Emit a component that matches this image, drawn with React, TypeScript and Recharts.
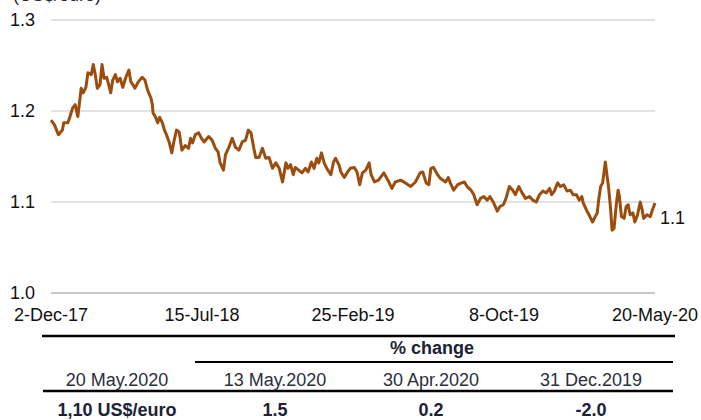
import React from "react";
import { LineChart, Line, XAxis, YAxis, CartesianGrid } from "recharts";

// days since 2-Dec-17 and US$/euro reading at that day
const tradingDay = [
  0, 5, 11, 17, 19, 25, 28, 32, 36, 40,
  45, 48, 52, 55, 60, 63, 66, 69, 73, 76,
  79, 83, 86, 89, 92, 96, 99, 103, 107, 111,
  116, 119, 122, 125, 130, 136, 140, 144, 149, 151,
  152, 156, 159, 162, 166, 169, 172, 176, 180, 183,
  187, 191, 195, 200, 205, 208, 211, 215, 220, 225,
  228, 235, 240, 245, 249, 252, 257, 260, 265, 270,
  275, 280, 285, 290, 294, 298, 302, 305, 310, 315,
  320, 325, 330, 335, 340, 345, 350, 353, 357, 361,
  364, 369, 374, 379, 383, 388, 392, 396, 399, 403,
  407, 411, 417, 421, 424, 429, 432, 437, 441, 446,
  452, 456, 460, 464, 469, 474, 477, 482, 488, 496,
  502, 508, 513, 521, 528, 536, 543, 550, 554, 559,
  563, 566, 570, 576, 580, 588, 592, 595, 600, 606,
  612, 616, 620, 626, 630, 635, 640, 645, 650, 654,
  659, 662, 665, 669, 674, 678, 683, 688, 692, 697,
  702, 707, 713, 718, 723, 728, 733, 738, 743, 746,
  750, 755, 759, 764, 769, 774, 778, 783, 787, 791,
  793, 798, 803, 807, 811, 814, 816, 819, 822, 826,
  828, 831, 834, 836, 839, 842, 845, 847, 850, 854,
  857, 860, 863, 867, 870, 874, 878, 881, 883, 888,
  893, 896, 900,
];

const usdPerEuro = [
  1.19, 1.185, 1.174, 1.179, 1.187, 1.187, 1.193, 1.203, 1.207, 1.194,
  1.225, 1.22, 1.226, 1.242, 1.24, 1.251, 1.24, 1.225, 1.229, 1.251,
  1.236, 1.237, 1.229, 1.22, 1.234, 1.24, 1.232, 1.236, 1.226, 1.236,
  1.245, 1.232, 1.229, 1.225, 1.232, 1.237, 1.234, 1.223, 1.214, 1.207,
  1.198, 1.193, 1.187, 1.193, 1.187, 1.179, 1.174, 1.166, 1.154, 1.166,
  1.179, 1.177, 1.157, 1.162, 1.159, 1.17, 1.165, 1.174, 1.176, 1.169,
  1.166, 1.172, 1.168, 1.159, 1.155, 1.143, 1.135, 1.152, 1.16, 1.17,
  1.16, 1.157, 1.166, 1.168, 1.179, 1.176, 1.16, 1.149, 1.149, 1.159,
  1.148, 1.149, 1.137, 1.143, 1.137, 1.122, 1.143, 1.137, 1.141, 1.13,
  1.138, 1.135, 1.132, 1.137, 1.133, 1.144, 1.137, 1.148, 1.143, 1.154,
  1.143, 1.137, 1.13, 1.144, 1.148, 1.141, 1.133, 1.127, 1.132, 1.137,
  1.138, 1.133, 1.119, 1.132, 1.135, 1.143, 1.13, 1.122, 1.124, 1.132,
  1.124, 1.115, 1.122, 1.124, 1.121, 1.117, 1.122, 1.132, 1.133, 1.121,
  1.119, 1.137, 1.138, 1.13, 1.126, 1.122, 1.127, 1.121, 1.113, 1.119,
  1.121, 1.122, 1.117, 1.113, 1.108, 1.097, 1.104, 1.106, 1.102, 1.106,
  1.1, 1.095, 1.09, 1.095, 1.097, 1.104, 1.117, 1.113, 1.108, 1.117,
  1.11, 1.104, 1.106, 1.102, 1.1, 1.108, 1.112, 1.11, 1.115, 1.108,
  1.112, 1.121, 1.117, 1.119, 1.112, 1.113, 1.108, 1.108, 1.102, 1.106,
  1.099, 1.091, 1.084, 1.078, 1.084, 1.088, 1.102, 1.117, 1.121, 1.144,
  1.132, 1.115, 1.091, 1.069, 1.071, 1.095, 1.113, 1.106, 1.084, 1.082,
  1.095, 1.097, 1.086, 1.088, 1.078, 1.086, 1.1, 1.091, 1.082, 1.086,
  1.084, 1.091, 1.099,
];

const tickDays = [0, 225, 450, 675, 900];
const tickLabels = ["2-Dec-17", "15-Jul-18", "25-Feb-19", "8-Oct-19", "20-May-20"];
const yTicks = [1.0, 1.1, 1.2, 1.3];

const tableDates = ["20 May.2020", "13 May.2020", "30 Apr.2020", "31 Dec.2019"];
const tableValues = ["1,10 US$/euro", "1.5", "0.2", "-2.0"];
const colCenters = [117, 275, 431, 591];

const data = tradingDay.map((d, i) => ({ day: d, rate: usdPerEuro[i] }));

const FONT = "'Liberation Sans', Arial, sans-serif";
const LINE = "#9c4d0e";

function EndLabel(props: any) {
  const { x, y, index, value } = props;
  if (index !== data.length - 1) return null;
  return (
    <text x={x + 5} y={y + 21} fontSize={18} fontFamily={FONT} fill="#111">
      {Number(value).toFixed(1)}
    </text>
  );
}

export default function App() {
  return (
    <div style={{ position: "relative", width: 701, height: 420, background: "#fff", overflow: "hidden" }}>
      <style>{`body{margin:0}`}</style>
      <LineChart
        width={701}
        height={420}
        data={data}
        margin={{ top: 20, right: 46, bottom: 97, left: 0 }}
      >
        <CartesianGrid horizontal vertical={false} stroke="#d9d9d9" strokeWidth={1.5} />
        <XAxis
          dataKey="day"
          type="number"
          domain={[0, 900]}
          ticks={tickDays}
          tickFormatter={(v: number) => tickLabels[tickDays.indexOf(v)] ?? ""}
          tick={{ fontSize: 18, fill: "#111", fontFamily: FONT }}
          tickLine={false}
          tickSize={0}
          tickMargin={15}
          height={30}
          axisLine={{ stroke: "#bfbfbf", strokeWidth: 1.5 }}
          interval={0}
        />
        <YAxis
          domain={[1.0, 1.3]}
          ticks={yTicks}
          tickFormatter={(v: number) => v.toFixed(1)}
          tick={{ fontSize: 18, fill: "#111", fontFamily: FONT }}
          tickLine={false}
          axisLine={false}
          tickSize={0}
          tickMargin={16}
          width={51}
          interval={0}
        />
        <Line
          type="linear"
          dataKey="rate"
          stroke={LINE}
          strokeWidth={3}
          dot={false}
          strokeLinejoin="round"
          isAnimationActive={false}
          label={EndLabel}
        />
      </LineChart>
      <svg
        width={701}
        height={420}
        style={{ position: "absolute", left: 0, top: 0, pointerEvents: "none" }}
        fontFamily={FONT}
      >
        <text x={13} y={1} fontSize={18} fill="#1f2a44">(US$/euro)</text>
        <line x1={42} x2={675} y1={336} y2={336} stroke="#000" strokeWidth={2.6} />
        <text x={432} y={354} fontSize={18} fontWeight="bold" fill="#1b2236" textAnchor="middle">
          % change
        </text>
        <line x1={195} x2={673} y1={362} y2={362} stroke="#000" strokeWidth={2.2} />
        {tableDates.map((t, i) => (
          <text key={t} x={colCenters[i]} y={386} fontSize={18} fill="#2a2f3c" textAnchor="middle">
            {t}
          </text>
        ))}
        <line x1={43} x2={673} y1={391} y2={391} stroke="#000" strokeWidth={2.6} />
        {tableValues.map((t, i) => (
          <text key={t} x={colCenters[i]} y={416} fontSize={18} fontWeight="bold" fill="#1b2236" textAnchor="middle">
            {t}
          </text>
        ))}
      </svg>
    </div>
  );
}
